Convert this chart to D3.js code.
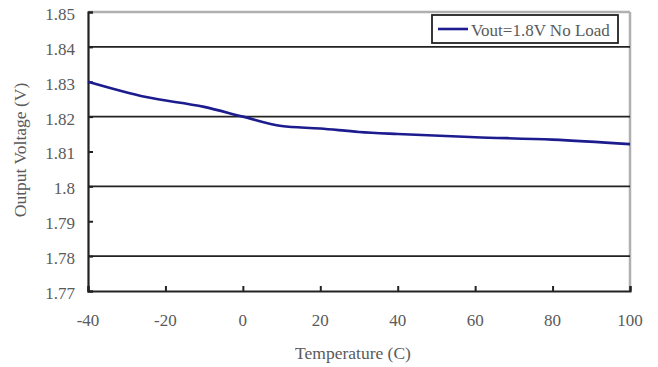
<!DOCTYPE html>
<html><head><meta charset="utf-8">
<script src="https://cdn.jsdelivr.net/npm/d3@7"></script>
<style>body{margin:0;background:#fff}svg{display:block}text{font-family:"Liberation Serif","Times New Roman",serif}</style>
</head><body><svg id="c" width="658" height="367"></svg>
<script>
const temps = [-40, -25, -10, 0, 10, 20, 30, 40, 60, 80, 100];
const vout = [1.8300, 1.8256, 1.8228, 1.8200, 1.8173, 1.8166, 1.8156, 1.8150, 1.8141, 1.8134, 1.8121];
const xTicks = [-40, -20, 0, 20, 40, 60, 80, 100];
const yTicks = [1.77, 1.78, 1.79, 1.80, 1.81, 1.82, 1.83, 1.84, 1.85];
const gridVals = [1.78, 1.80, 1.82, 1.84];
const seriesName = "Vout=1.8V No Load";

const svg = d3.select("#c");
const L = 88, R = 630, T = 12, B = 291;
const x = d3.scaleLinear().domain([-40, 100]).range([L, R]);
const y = d3.scaleLinear().domain([1.77, 1.85]).range([B, T]);

// top & right border (gray)
svg.append("line").attr("x1", L).attr("x2", R).attr("y1", y(1.85)).attr("y2", y(1.85)).attr("stroke", "#b0b0b0").attr("stroke-width", 2.5);
svg.append("line").attr("x1", R).attr("x2", R).attr("y1", T).attr("y2", B).attr("stroke", "#b0b0b0").attr("stroke-width", 2.5);

// gridlines
svg.append("g").selectAll("line").data(gridVals).join("line")
  .attr("x1", L).attr("x2", R).attr("y1", d => y(d)).attr("y2", d => y(d))
  .attr("stroke", "#222").attr("stroke-width", 1.6);

// y axis
const yAx = svg.append("g").attr("transform", `translate(${L},0)`)
  .call(d3.axisRight(y).tickValues(yTicks).tickSize(5).tickFormat(""));
yAx.select(".domain").attr("stroke", "#222").attr("stroke-width", 2.2);
yAx.selectAll(".tick line").attr("stroke", "#222").attr("stroke-width", 2);
svg.append("g").selectAll("text").data(yTicks).join("text")
  .attr("x", 75).attr("y", d => y(d) + 2).attr("dy", "0.35em").attr("text-anchor", "end")
  .attr("font-size", 17).attr("fill", "#5a5a5a").text(d => String(+d.toFixed(2)));

// x axis
const xAx = svg.append("g").attr("transform", `translate(0,${B})`)
  .call(d3.axisTop(x).tickValues(xTicks).tickSize(5).tickFormat(""));
xAx.select(".domain").attr("stroke", "#222").attr("stroke-width", 2.2);
xAx.selectAll(".tick line").attr("stroke", "#222").attr("stroke-width", 2);
svg.append("g").selectAll("text").data(xTicks).join("text")
  .attr("x", d => x(d)).attr("y", 326).attr("text-anchor", "middle")
  .attr("font-size", 17).attr("fill", "#5a5a5a").text(d => d);

// axis titles
svg.append("text").attr("x", 353).attr("y", 359).attr("text-anchor", "middle")
  .attr("font-size", 17.5).attr("fill", "#5a5a5a").text("Temperature (C)");
svg.append("text").attr("transform", "translate(26,150) rotate(-90)").attr("text-anchor", "middle")
  .attr("font-size", 17.5).attr("fill", "#5a5a5a").text("Output Voltage (V)");

// series
const pts = temps.map((t, i) => [t, vout[i]]);
svg.append("path").datum(pts)
  .attr("d", d3.line().x(d => x(d[0])).y(d => y(d[1])).curve(d3.curveMonotoneX))
  .attr("fill", "none").attr("stroke", "#1c1c8f").attr("stroke-width", 2.6);

// legend
const lg = svg.append("g");
lg.append("rect").attr("x", 432).attr("y", 15).attr("width", 186).attr("height", 28)
  .attr("fill", "#fff").attr("stroke", "#222").attr("stroke-width", 1.8);
lg.append("line").attr("x1", 438).attr("x2", 468).attr("y1", 29).attr("y2", 29)
  .attr("stroke", "#1c1c8f").attr("stroke-width", 2.6);
lg.append("text").attr("x", 471).attr("y", 30).attr("dy", "0.35em")
  .attr("font-size", 17).attr("fill", "#5a5a5a").text(seriesName);
</script></body></html>
